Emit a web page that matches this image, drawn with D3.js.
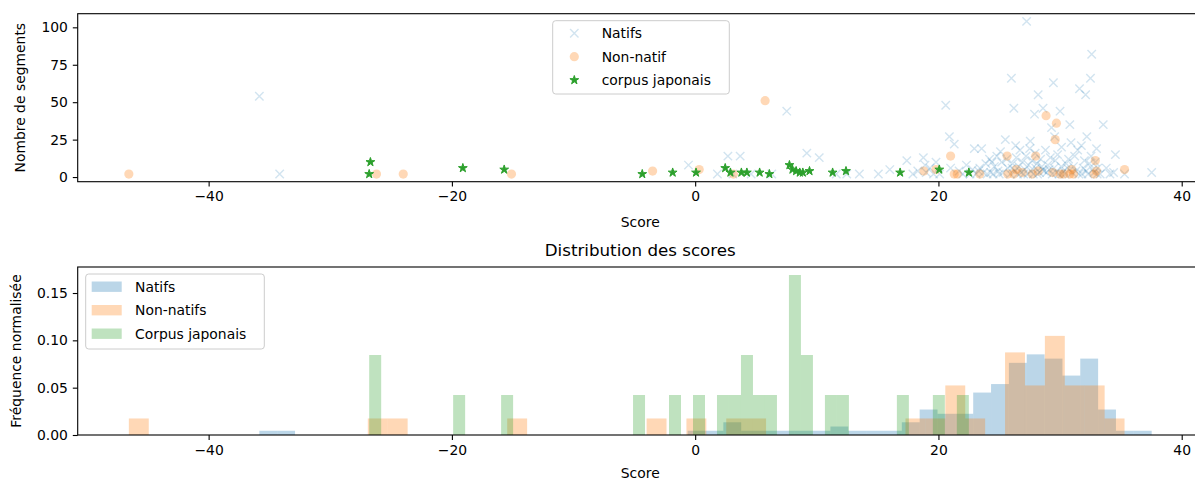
<!DOCTYPE html>
<html>
<head>
<meta charset="utf-8">
<script src="https://cdn.jsdelivr.net/npm/d3@7"></script>
<style>
  body { margin: 0; background: #fff; overflow: hidden; }
  text { font-family: "DejaVu Sans", sans-serif; fill: #000; }
</style>
</head>
<body>
<div id="chart"></div>
<script>
// scores (x) and segment counts (y)
var natifsPoints = [
    [-35.83, 54], [-34.16, 2], [-0.55, 8], [1.83, 2], [2.69, 14], [3.7, 14], [3.1, 2],
    [4.6, 2], [6.3, 2], [7.53, 44], [9.18, 16], [10.2, 13], [12.46, 2], [11.6, 2],
    [13.5, 2], [15.06, 2], [16.0, 5], [17.4, 11], [17.9, 2], [18.3, 4],
    [18.76, 13], [19.8, 10], [19.0, 3], [19.3, 6], [19.6, 2], [18.9, 8],
    [20.6, 48], [20.9, 27], [21.3, 22], [20.1, 2], [21.0, 6],
    [21.7, 4], [22.0, 2], [22.3, 8], [22.6, 2], [22.8, 5],
    [22.95, 19], [23.55, 19], [23.1, 2], [23.3, 4], [23.7, 3], [23.9, 9], [24.0, 2], [24.2, 12], [23.4, 6], [24.3, 3],
    [24.8, 14], [25.5, 25], [24.5, 2], [24.6, 7], [24.9, 4], [25.0, 2], [25.2, 10], [25.3, 3], [25.6, 12], [25.7, 6], [25.1, 17], [24.4, 10],
    [26.0, 66], [26.2, 46], [27.25, 104], [25.9, 2], [26.1, 9], [26.3, 4], [26.4, 13], [26.5, 2], [26.6, 7], [26.7, 18],
    [26.8, 3], [26.9, 10], [27.0, 2], [27.1, 5], [27.2, 14], [26.35, 21], [26.05, 6],
    [28.2, 55], [27.9, 42], [28.6, 46], [27.5, 19], [27.35, 2], [27.4, 8], [27.6, 4], [27.7, 11], [27.8, 2], [27.95, 16],
    [28.0, 6], [28.1, 9], [28.3, 3], [28.4, 12], [28.5, 7], [28.55, 5], [28.7, 4], [27.55, 24], [28.15, 2],
    [29.45, 63], [30.0, 44], [29.3, 33], [28.8, 18], [28.9, 3], [29.0, 8], [29.1, 5], [29.2, 13], [29.35, 2], [29.5, 6],
    [29.6, 11], [29.7, 3], [29.8, 15], [29.9, 2], [30.1, 7], [30.12, 20], [29.55, 27], [30.15, 2],
    [31.6, 59], [30.8, 35], [30.9, 23], [31.2, 14], [30.3, 4], [30.4, 2], [30.5, 9], [30.6, 6], [30.7, 12], [31.0, 3],
    [31.1, 7], [31.3, 4], [31.45, 18], [31.55, 2],
    [32.6, 82], [32.5, 66], [32.1, 55], [32.2, 27], [33.0, 19], [31.8, 2], [31.9, 6], [32.0, 11], [32.15, 4], [32.3, 2],
    [32.4, 9], [32.55, 14], [32.7, 5], [32.8, 3], [32.9, 10], [33.05, 2], [33.1, 6], [31.75, 21],
    [33.55, 35], [34.55, 15], [33.3, 2], [33.8, 6], [34.1, 2], [34.4, 3], [35.3, 2], [37.53, 3]
];

var nonNatifPoints = [
    [-46.56, 2], [-26.2, 2], [-24.0, 2], [-15.1, 2], [-3.5, 4], [0.33, 5], [3.15, 2], [5.75, 51],
    [18.8, 4], [19.8, 5], [21.0, 14], [21.55, 2], [21.3, 2], [23.4, 2],
    [25.65, 14], [25.7, 2], [26.4, 5], [26.2, 2], [26.9, 3], [27.7, 2], [28.0, 14], [28.2, 4],
    [28.85, 41], [29.7, 36], [29.6, 25], [29.4, 3], [30.0, 2], [30.3, 2],
    [30.95, 5], [31.1, 2], [30.8, 2], [32.9, 11], [32.8, 2], [33.0, 4], [35.3, 5]
];

var corpusPoints = [
    [-26.8, 2], [-26.7, 10], [-19.1, 6], [-15.7, 5], [-4.35, 2], [-1.85, 3], [0.07, 3],
    [2.47, 6], [2.9, 3], [3.8, 3], [4.25, 3], [5.3, 3], [6.1, 2],
    [7.75, 8], [8.0, 5], [8.3, 4], [8.6, 3], [8.85, 3], [9.4, 4],
    [11.3, 3], [12.4, 4], [16.85, 3], [20.07, 5], [22.5, 3]
];

var scatterLabels = ["Natifs", "Non-natif", "corpus japonais"];
var histLabels = ["Natifs", "Non-natifs", "Corpus japonais"];
var xTicks = [-40, -20, 0, 20, 40];
var segTicks = [0, 25, 50, 75, 100];
var freqTicks = [0, 0.05, 0.10, 0.15];
var nBins = 50;

var colors = ["#1f77b4", "#ff7f0e", "#2ca02c"];

var svgWidth = 1195;
var svgHeight = 479;
var plotLeft = 77.7, plotRight = 1202.8;
var topPlot = { top: 13.7, bottom: 181.7 };
var histPlot = { top: 267, bottom: 435 };
var tickLen = 4.9, tickPad = 4.9;

var svg = d3.select("#chart").append("svg")
    .attr("width", svgWidth)
    .attr("height", svgHeight);

// shared x scale, matplotlib style 5% margins
var allPoints = natifsPoints.concat(nonNatifPoints, corpusPoints);
var xMin = d3.min(allPoints, d => d[0]), xMax = d3.max(allPoints, d => d[0]);
var xPad = (xMax - xMin) * 0.05;
var xScale = d3.scaleLinear()
    .domain([xMin - xPad, xMax + xPad])
    .range([plotLeft, plotRight]);

var yMin = d3.min(allPoints, d => d[1]), yMax = d3.max(allPoints, d => d[1]);
var yPad = (yMax - yMin) * 0.05;
var segScale = d3.scaleLinear()
    .domain([yMin - yPad, yMax + yPad])
    .range([topPlot.bottom, topPlot.top]);

function styleAxis(g) {
    g.select(".domain").remove();
    g.selectAll(".tick line").attr("stroke", "#000").attr("stroke-width", 1.1);
    g.selectAll(".tick text").style("font-size", "13.9px").style("font-family", "DejaVu Sans");
}

function frame(p) {
    svg.append("rect")
        .attr("x", plotLeft).attr("y", p.top)
        .attr("width", plotRight - plotLeft).attr("height", p.bottom - p.top)
        .attr("fill", "none").attr("stroke", "#000").attr("stroke-width", 1.1);
}

// ---------- top: scatter ----------
var starPath = d3.symbol().type(d3.symbolStar).size(24)();

function drawCross(sel, color) {
    sel.append("path")
        .attr("d", "M-4.2,-4.2L4.2,4.2M-4.2,4.2L4.2,-4.2")
        .attr("stroke", color)
        .attr("stroke-width", 1.4)
        .attr("stroke-opacity", 0.2)
        .attr("fill", "none");
}
function drawCircle(sel, color) {
    sel.append("circle").attr("r", 4.6).attr("fill", color).attr("fill-opacity", 0.3);
}
function drawStar(sel, color) {
    sel.append("path").attr("d", starPath).attr("fill", color).attr("stroke", color).attr("stroke-width", 1);
}
var markerFns = [drawCross, drawCircle, drawStar];
var scatterSets = [natifsPoints, nonNatifPoints, corpusPoints];

var scatterGroup = svg.append("g");
scatterSets.forEach(function(set, i) {
    var g = scatterGroup.selectAll(".pt" + i)
        .data(set)
        .enter()
        .append("g")
        .attr("transform", d => `translate(${xScale(d[0])}, ${segScale(d[1])})`);
    markerFns[i](g, colors[i]);
});

frame(topPlot);

svg.append("g")
    .attr("transform", `translate(0, ${topPlot.bottom})`)
    .call(d3.axisBottom(xScale).tickValues(xTicks).tickSize(tickLen).tickPadding(tickPad).tickSizeOuter(0))
    .call(styleAxis);

svg.append("g")
    .attr("transform", `translate(${plotLeft}, 0)`)
    .call(d3.axisLeft(segScale).tickValues(segTicks).tickSize(tickLen).tickPadding(tickPad).tickSizeOuter(0))
    .call(styleAxis);

svg.append("text")
    .attr("x", (plotLeft + 1202.8) / 2).attr("y", 227)
    .attr("text-anchor", "middle").style("font-size", "13.9px")
    .text("Score");

svg.append("text")
    .attr("transform", `translate(25, ${(topPlot.top + topPlot.bottom) / 2}) rotate(-90)`)
    .attr("text-anchor", "middle").style("font-size", "13.9px")
    .text("Nombre de segments");

// legend (top)
var leg1 = svg.append("g").attr("transform", "translate(552.7, 20.7)");
leg1.append("rect")
    .attr("width", 176.6).attr("height", 73.3).attr("rx", 3)
    .attr("fill", "#fff").attr("fill-opacity", 0.8)
    .attr("stroke", "#cccccc").attr("stroke-width", 1);
scatterLabels.forEach(function(lbl, i) {
    var row = leg1.append("g").attr("transform", `translate(0, ${12.6 + i * 23.4})`);
    markerFns[i](row.append("g").attr("transform", "translate(21.6, 0)"), colors[i]);
    row.append("text").attr("x", 49).attr("dy", "0.35em")
        .style("font-size", "13.9px").text(lbl);
});

// ---------- bottom: normalised histograms ----------
function histogram(points) {
    var xs = points.map(d => d[0]);
    var lo = d3.min(xs), hi = d3.max(xs);
    var w = (hi - lo) / nBins;
    var bins = d3.bin()
        .domain([lo, hi])
        .thresholds(d3.range(1, nBins).map(i => lo + i * w))(xs);
    bins.forEach(b => { b.density = b.length / (xs.length * w); });
    return bins;
}
var histSets = scatterSets.map(histogram);
var maxDensity = d3.max(histSets, s => d3.max(s, b => b.density));

var freqScale = d3.scaleLinear()
    .domain([0, maxDensity * 1.05])
    .range([histPlot.bottom, histPlot.top]);

histSets.forEach(function(bins, i) {
    svg.append("g").selectAll("rect")
        .data(bins.filter(b => b.length > 0))
        .enter()
        .append("rect")
        .attr("x", b => xScale(b.x0))
        .attr("width", b => xScale(b.x1) - xScale(b.x0))
        .attr("y", b => freqScale(b.density))
        .attr("height", b => freqScale(0) - freqScale(b.density))
        .attr("fill", colors[i])
        .attr("fill-opacity", 0.3);
});

frame(histPlot);

svg.append("g")
    .attr("transform", `translate(0, ${histPlot.bottom})`)
    .call(d3.axisBottom(xScale).tickValues(xTicks).tickSize(tickLen).tickPadding(tickPad).tickSizeOuter(0))
    .call(styleAxis);

svg.append("g")
    .attr("transform", `translate(${plotLeft}, 0)`)
    .call(d3.axisLeft(freqScale).tickValues(freqTicks).tickFormat(d3.format(".2f")).tickSize(tickLen).tickPadding(tickPad).tickSizeOuter(0))
    .call(styleAxis);

svg.append("text")
    .attr("x", (plotLeft + 1202.8) / 2).attr("y", 256)
    .attr("text-anchor", "middle").style("font-size", "16.7px")
    .text("Distribution des scores");

svg.append("text")
    .attr("x", (plotLeft + 1202.8) / 2).attr("y", 478)
    .attr("text-anchor", "middle").style("font-size", "13.9px")
    .text("Score");

svg.append("text")
    .attr("transform", `translate(21, ${(histPlot.top + histPlot.bottom) / 2}) rotate(-90)`)
    .attr("text-anchor", "middle").style("font-size", "13.9px")
    .text("Fréquence normalisée");

// legend (bottom)
var leg2 = svg.append("g").attr("transform", "translate(85.7, 274)");
leg2.append("rect")
    .attr("width", 178.6).attr("height", 75).attr("rx", 3)
    .attr("fill", "#fff").attr("fill-opacity", 0.8)
    .attr("stroke", "#cccccc").attr("stroke-width", 1);
histLabels.forEach(function(lbl, i) {
    var row = leg2.append("g").attr("transform", `translate(0, ${12.7 + i * 23.5})`);
    row.append("rect")
        .attr("x", 6).attr("y", -5.2).attr("width", 30).attr("height", 10.4)
        .attr("fill", colors[i]).attr("fill-opacity", 0.3);
    row.append("text").attr("x", 49.3).attr("dy", "0.35em")
        .style("font-size", "13.9px").text(lbl);
});
</script>
</body>
</html>
